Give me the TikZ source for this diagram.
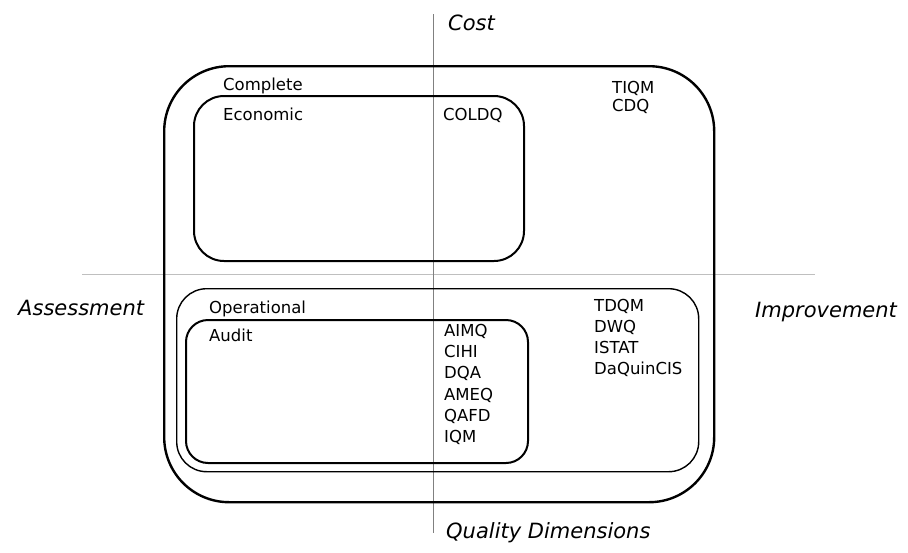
\documentclass[tikz,border=0pt]{standalone}
\usepackage{fontspec}
\setmainfont{DejaVu Sans}
\begin{document}
\begin{tikzpicture}[x=1pt,y=-1pt,
  axis/.style={draw=black!50,line width=0.9pt},
  haxis/.style={draw=black!25,line width=0.9pt},
  frame/.style={draw=black,rounded corners=#1},
  lbl/.style={anchor=base west,inner sep=0pt,font=\fontsize{16.5}{19}\selectfont},
  ax/.style={anchor=base west,inner sep=0pt,font=\fontsize{21}{25}\selectfont\itshape}]
\useasboundingbox (0,0) rectangle (908,552);
% axes
\coordinate (vt) at (433,14);
\coordinate (vb) at (433,533);
\coordinate (hl) at (82,274);
\coordinate (hr) at (815,274);
\draw[haxis] (hl) -- (hr);
\draw[axis] (vt) -- (vb);
% boxes
\node[frame=65pt,line width=2.4pt,minimum width=550pt,minimum height=436pt,anchor=north west] (outer) at (163,65) {};
\node[frame=30pt,line width=2pt,minimum width=330pt,minimum height=165pt,anchor=north west] (econ) at (193,95) {};
\node[frame=30pt,line width=1.4pt,minimum width=522pt,minimum height=183pt,anchor=north west] (oper) at (176,288) {};
\node[frame=22pt,line width=2pt,minimum width=342pt,minimum height=143pt,anchor=north west] (audit) at (185,319) {};
% labels
\node[lbl] (complete) at (223,90) {Complete};
\node[lbl] (economic) at (223,120) {Economic};
\node[lbl] (coldq) at (443,120) {COLDQ};
\node[lbl] (tiqm) at (612,93) {TIQM};
\node[lbl] (cdq) at (612,111) {CDQ};
\node[lbl] (operational) at (209,313) {Operational};
\node[lbl] (auditl) at (209,341) {Audit};
\node[lbl] (aimq) at (444,336.5) {AIMQ};
\node[lbl] (cihi) at (444,357.5) {CIHI};
\node[lbl] (dqa) at (444,378.5) {DQA};
\node[lbl] (ameq) at (444,400) {AMEQ};
\node[lbl] (qafd) at (444,421.5) {QAFD};
\node[lbl] (iqm) at (444,442.5) {IQM};
\node[lbl] (tdqm) at (594,311) {TDQM};
\node[lbl] (dwq) at (594,332) {DWQ};
\node[lbl] (istat) at (594,353) {ISTAT};
\node[lbl] (daq) at (594,374) {DaQuinCIS};
% axis titles
\node[ax] (cost) at (448,30) {Cost};
\node[ax] (qd) at (446,538) {Quality Dimensions};
\node[ax] (assess) at (18,315) {Assessment};
\node[ax] (impr) at (755,317) {Improvement};
\end{tikzpicture}
\end{document}
